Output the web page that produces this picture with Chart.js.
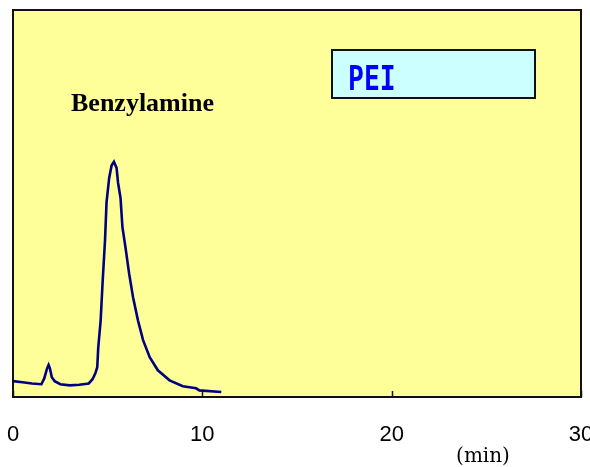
<!DOCTYPE html>
<html>
<head>
<meta charset="utf-8">
<script src="https://cdn.jsdelivr.net/npm/chart.js@4/dist/chart.umd.min.js"></script>
<style>
  html, body { margin: 0; padding: 0; background: #fff; overflow: hidden; }
  #wrap { width: 600px; height: 467px; }
</style>
</head>
<body>
<div id="wrap"><canvas id="hplc"></canvas></div>
<script>
// retention time (min) and detector signal (arbitrary units, 0-100 full scale)
const times = [0, 0.5, 1.0, 1.5, 1.65, 1.8, 1.88, 1.95, 2.05, 2.2, 2.5, 3.0, 3.5, 4.0, 4.2, 4.35, 4.45,
  4.5, 4.63, 4.73, 4.86, 4.94, 5.08, 5.21, 5.33, 5.47, 5.55, 5.68, 5.78, 5.94, 6.13, 6.34, 6.6,
  6.87, 7.22, 7.65, 8.27, 8.97, 9.67, 9.84, 11.0];
const signal = [4.1, 3.8, 3.5, 3.3, 4.8, 7.4, 8.3, 7.4, 5.1, 4.1, 3.3, 3.0, 3.15, 3.5, 4.6, 6.1, 7.7,
  12.6, 19.8, 29.4, 40.5, 50.3, 56.6, 59.9, 60.8, 59.2, 55.3, 51.4, 43.9, 38.7, 32.0, 25.8, 19.8,
  14.7, 10.3, 6.9, 4.3, 2.8, 2.25, 1.7, 1.3];
const xTicks = [0, 10, 20, 30];

const points = times.map((t, i) => ({ x: t, y: signal[i] }));

// yellow plot background, frame, inward tick marks and the text annotations
const decor = {
  id: 'decor',
  beforeDatasetsDraw(chart) {
    const { ctx, chartArea: a } = chart;
    ctx.save();
    ctx.fillStyle = '#FFFF99';
    ctx.fillRect(a.left, a.top, a.right - a.left, a.bottom - a.top);
    ctx.restore();
  },
  afterDraw(chart) {
    const { ctx, chartArea: a } = chart;
    const xs = chart.scales.x;
    ctx.save();
    ctx.strokeStyle = '#111';
    ctx.lineWidth = 2;
    ctx.strokeRect(a.left, a.top, a.right - a.left, a.bottom - a.top);

    ctx.lineWidth = 1.5;
    xTicks.forEach(v => {
      const px = Math.round(xs.getPixelForValue(v)) + 0.5;
      ctx.beginPath();
      ctx.moveTo(px, a.bottom);
      ctx.lineTo(px, a.bottom - 6);
      ctx.stroke();
    });

    ctx.fillStyle = '#000';
    ctx.font = 'bold 26px "Liberation Serif"';
    ctx.textBaseline = 'alphabetic';
    ctx.fillText('Benzylamine', 71, 111);

    ctx.fillStyle = '#CCFFFF';
    ctx.fillRect(332, 50, 203, 48);
    ctx.lineWidth = 2;
    ctx.strokeStyle = '#111';
    ctx.strokeRect(332, 50, 203, 48);

    ctx.save();
    ctx.translate(348, 90);
    ctx.scale(0.8, 1);
    ctx.fillStyle = '#0000FF';
    ctx.font = 'bold 33px "DejaVu Sans Mono"';
    ctx.fillText('PEI', 0, 0);
    ctx.restore();

    ctx.fillStyle = '#000';
    ctx.font = '20px "DejaVu Serif"';
    ctx.textAlign = 'center';
    ctx.fillText('(min)', 483, 462);
    ctx.restore();
  }
};

new Chart(document.getElementById('hplc'), {
  type: 'line',
  data: {
    datasets: [{
      data: points,
      borderColor: '#000080',
      borderWidth: 2.6,
      pointRadius: 0,
      tension: 0,
      fill: false
    }]
  },
  options: {
    responsive: true,
    maintainAspectRatio: false,
    animation: false,
    events: [],
    layout: { padding: { left: 13, right: 19, top: 10, bottom: 0 } },
    plugins: { legend: { display: false }, tooltip: { enabled: false } },
    scales: {
      x: {
        type: 'linear',
        min: 0,
        max: 30,
        afterBuildTicks: (s) => { s.ticks = xTicks.map(v => ({ value: v })); },
        afterFit: (s) => { s.paddingLeft = 0; s.paddingRight = 0; s.height = 70; },
        ticks: {
          color: '#000',
          padding: 17,
          font: { family: '"Liberation Sans"', size: 22 },
          maxRotation: 0
        },
        grid: { display: false },
        border: { display: true, color: '#111', width: 2 }
      },
      y: { display: false, min: 0, max: 100 }
    }
  },
  plugins: [decor]
});
</script>
</body>
</html>
